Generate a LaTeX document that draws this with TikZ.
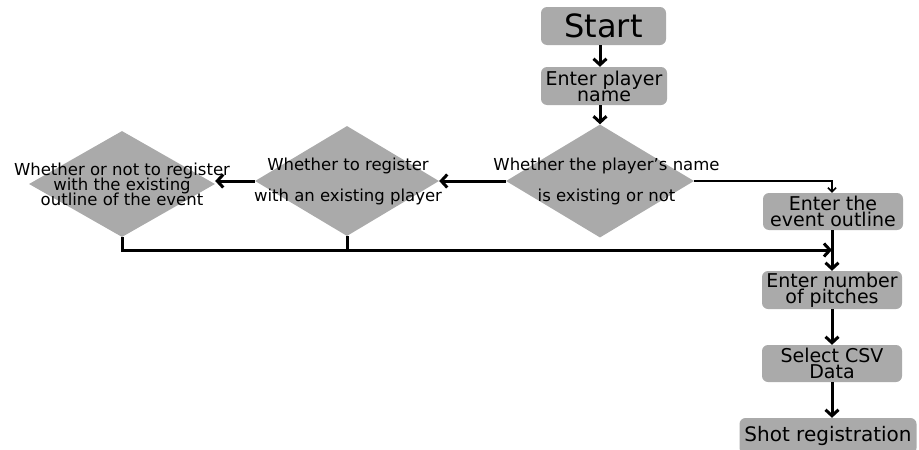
\documentclass[tikz,border=0pt]{standalone}
\usepackage{fontspec}
\setmainfont{DejaVu Sans}
\usetikzlibrary{shapes.geometric,arrows.meta}
\definecolor{boxgray}{RGB}{170,170,170}
% font size with a fixed baseline distance, however tight
\newcommand\tightfont[2]{\fontsize{#1}{#2}\selectfont\lineskiplimit=-30pt\relax}
\tikzset{
  stepbox/.style={rectangle, rounded corners=6pt, fill=boxgray, inner sep=0pt,
    align=center, font=\tightfont{19}{16}},
  decision/.style={diamond, fill=boxgray, inner sep=0pt},
  dtext/.style={align=center, inner sep=0pt},
  flow/.style={line width=3pt, -{Straight Barb[length=6pt,width=13pt,line width=3pt]}},
  thinflow/.style={line width=2pt, -{Straight Barb[length=4pt,width=8pt,line width=1.5pt]}},
  plain/.style={line width=3pt}
}
\begin{document}
\begin{tikzpicture}[x=1pt,y=-1pt]
\useasboundingbox (0,0) rectangle (919,450);
\clip (0,0) rectangle (919,450);

% process boxes
\node[stepbox, minimum width=125pt, minimum height=38pt, font=\tightfont{32}{34}]
  (start) at (603.5,26) {Start};
\node[stepbox, minimum width=126pt, minimum height=38pt] (player) at (604,86) {Enter player\\name};
\node[stepbox, minimum width=140pt, minimum height=37pt] (outline) at (833,211.5) {Enter the\\event outline};
\node[stepbox, minimum width=140pt, minimum height=38pt] (pitches) at (832,290) {Enter number\\of pitches};
\node[stepbox, minimum width=140pt, minimum height=37pt] (csv) at (832,363.5) {Select CSV\\Data};
\node[stepbox, minimum width=177pt, minimum height=36pt, font=\tightfont{20}{22}]
  (shot) at (828,436) {Shot registration};

% decisions
\node[decision, minimum width=188pt, minimum height=113pt] (d1) at (600,181) {};
\node[decision, minimum width=184pt, minimum height=110pt] (d2) at (347,181) {};
\node[decision, minimum width=186pt, minimum height=106pt] (d3) at (122,184) {};

\node[dtext, font=\tightfont{16.5}{31}] (t1) at (606.5,181)
  {Whether the player’s name\\is existing or not};
\node[dtext, font=\tightfont{16.5}{31}] (t2) at (348,181)
  {Whether to register\\with an existing player};
\node[dtext, font=\tightfont{16.5}{15}] (t3) at (122,184)
  {Whether or not to register\\with the existing\\outline of the event};

% connectors
\draw[flow] (start.south -| d1.north) -- (player.north -| d1.north);
\draw[flow] (player.south -| d1.north) -- (d1.north);
\coordinate (corner) at (832,178);
\draw[thinflow] (d1.east) -- (d1.east -| corner) -- (outline.north -| corner);
\draw[flow] (d1.west) -- (d2.east);
\draw[flow] (d2.west) -- (d2.west -| d3.east);
\coordinate (merge) at (832,250);
\draw[flow] (d3.south) |- (merge);
\draw[plain] (d2.south) -- (d2.south |- merge);
\draw[flow] (outline.south -| merge) -- (pitches.north -| merge);
\draw[flow] (pitches.south -| csv) -- (csv.north);
\draw[flow] (csv) -- (csv.south |- shot.north);
\end{tikzpicture}
\end{document}
